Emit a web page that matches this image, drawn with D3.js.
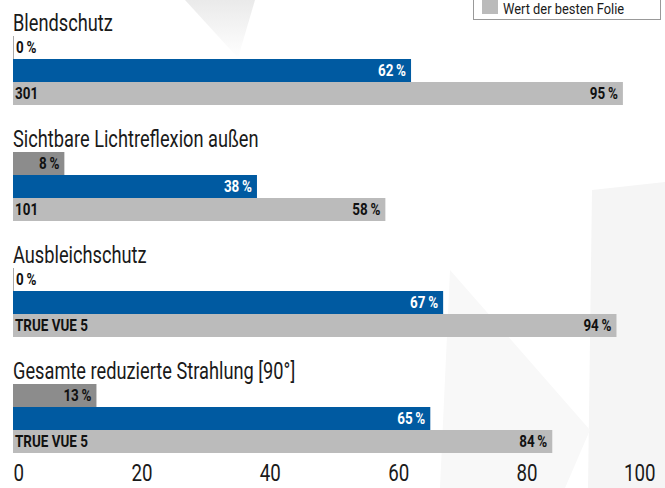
<!DOCTYPE html>
<html>
<head>
<meta charset="utf-8">
<script src="https://cdn.jsdelivr.net/npm/d3@7"></script>
<style>
  body { margin: 0; background: #fff; }
  svg { display: block; font-family: Roboto, "DejaVu Sans Condensed", sans-serif; }
</style>
</head>
<body>
<div id="chart"></div>
<script>
// chart data
const categories = ["Blendschutz", "Sichtbare Lichtreflexion außen", "Ausbleichschutz", "Gesamte reduzierte Strahlung [90°]"];
const ownValues = [0, 8, 0, 13];
const blueValues = [62, 38, 67, 65];
const bestValues = [95, 58, 94, 84];
const bestNames = ["301", "101", "TRUE VUE 5", "TRUE VUE 5"];
const tickValues = [0, 20, 40, 60, 80, 100];
const legendLabel = "Wert der besten Folie";

const width = 665, height = 488;
const barH = 23, groupStep = 116, firstTop = 36;
const pct = v => v + "\u2009%";

// the original uses a condensed face, so squeeze text horizontally
function condensed(sel, x, y, sx) {
    return sel.append("g")
        .attr("transform", "translate(" + x + "," + y + ") scale(" + sx + ",1)")
        .append("text");
}

const svg = d3.select("#chart")
    .append("svg")
    .attr("width", width)
    .attr("height", height);

// faint photo-like background shapes
const defs = svg.append("defs");
const grad = defs.append("linearGradient")
    .attr("id", "fade").attr("x1", 0).attr("y1", 0).attr("x2", 0).attr("y2", 1);
grad.append("stop").attr("offset", "0%").attr("stop-color", "#dcdcdc");
grad.append("stop").attr("offset", "100%").attr("stop-color", "#ffffff");
const bg = svg.append("g").attr("class", "bg");
bg.append("path").attr("d", "M185,0 L255,0 L238,58 Z").attr("fill", "url(#fade)").attr("opacity", 0.6);
bg.append("path").attr("d", "M592,190 L665,182 L665,488 L588,488 Z").attr("fill", "#f5f5f5");
bg.append("path").attr("d", "M450,270 L590,430 L565,488 L440,488 Z").attr("fill", "#f8f8f8");

const x = d3.scaleLinear().domain([0, 100]).range([13, 655]);

const groups = svg.selectAll("g.group")
    .data(categories)
    .join("g")
    .attr("class", "group")
    .attr("transform", (d, i) => "translate(0," + (firstTop + i * groupStep) + ")");

groups.each(function (d, i) {
    const g = d3.select(this);

    condensed(g, 13, -5, 0.76)
        .attr("font-size", "24px")
        .attr("fill", "#1a1a1a")
        .text(d);

    // dark grey bar (own film)
    g.append("rect")
        .attr("x", x(0))
        .attr("y", 0)
        .attr("width", Math.max(1, x(ownValues[i]) - x(0)))
        .attr("height", barH)
        .attr("fill", ownValues[i] === 0 ? "#aaa" : "#8c8c8c");

    condensed(g, ownValues[i] === 0 ? x(0) + 3 : x(ownValues[i]) - 5, 17, 0.84)
        .attr("text-anchor", ownValues[i] === 0 ? "start" : "end")
        .attr("font-size", "16px")
        .attr("font-weight", "bold")
        .attr("fill", "#111")
        .text(pct(ownValues[i]));

    // blue bar
    g.append("rect")
        .attr("x", x(0))
        .attr("y", barH)
        .attr("width", x(blueValues[i]) - x(0))
        .attr("height", barH)
        .attr("fill", "#005aa1");

    condensed(g, x(blueValues[i]) - 5, barH + 17, 0.84)
        .attr("text-anchor", "end")
        .attr("font-size", "16px")
        .attr("font-weight", "bold")
        .attr("fill", "#fff")
        .text(pct(blueValues[i]));

    // best film bar
    g.append("rect")
        .attr("x", x(0))
        .attr("y", barH * 2)
        .attr("width", x(bestValues[i]) - x(0))
        .attr("height", barH)
        .attr("fill", "#bbbbbb");

    condensed(g, x(0) + 2, barH * 2 + 17, 0.84)
        .attr("font-size", "16px")
        .attr("font-weight", "bold")
        .attr("fill", "#111")
        .text(bestNames[i]);

    condensed(g, x(bestValues[i]) - 5, barH * 2 + 17, 0.84)
        .attr("text-anchor", "end")
        .attr("font-size", "16px")
        .attr("font-weight", "bold")
        .attr("fill", "#111")
        .text(pct(bestValues[i]));
});

// x axis
const axis = svg.append("g")
    .attr("transform", "translate(0,481)")
    .call(d3.axisBottom(x).tickValues(tickValues).tickSize(0).tickPadding(0));
axis.select(".domain").remove();
axis.selectAll(".tick text")
    .attr("font-family", "Roboto, sans-serif")
    .attr("font-size", "24px")
    .attr("fill", "#1a1a1a")
    .attr("y", 0)
    .attr("dy", 0)
    .attr("transform", "scale(0.78,1)")
    .attr("text-anchor", d => d === 0 ? "start" : d === 100 ? "end" : "middle");

// legend (only its last entry shows in the frame)
const legend = svg.append("g").attr("class", "legend");
legend.append("rect")
    .attr("x", 473.5).attr("y", -10.5)
    .attr("width", 187).attr("height", 30)
    .attr("fill", "#fff")
    .attr("stroke", "#999");
legend.append("rect")
    .attr("x", 482).attr("y", 0)
    .attr("width", 16).attr("height", 14)
    .attr("fill", "#bbbbbb");
condensed(legend, 503, 14, 0.92)
    .attr("font-size", "14px")
    .attr("fill", "#1a1a1a")
    .text(legendLabel);
</script>
</body>
</html>
